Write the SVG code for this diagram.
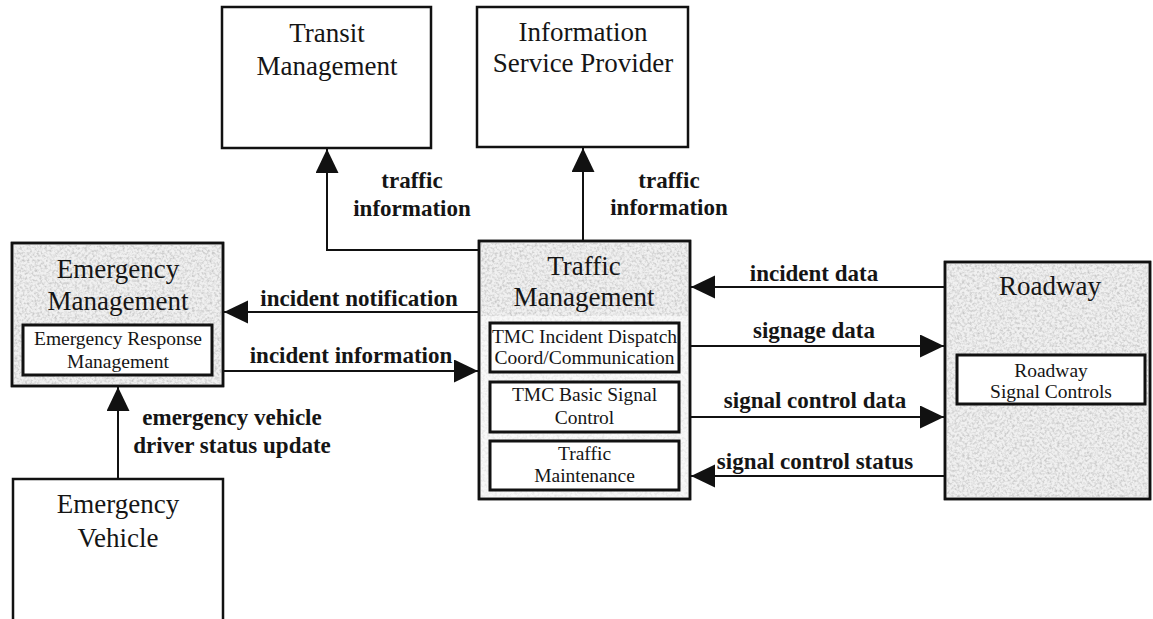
<svg xmlns="http://www.w3.org/2000/svg" width="1153" height="619" viewBox="0 0 1153 619">
  <defs>
    <style>
      .box { fill: #ffffff; stroke: #111; stroke-width: 2.5; }
      .shaded { fill: #f0f0f0; stroke: #111; stroke-width: 2.5; }
      .tone { fill: #ffffff; filter: url(#screen); }
      .edge { fill: none; stroke: #111; stroke-width: 2.5; }
      .inner { fill: #ffffff; stroke: #111; stroke-width: 3; }
      .title { font-family: "Liberation Serif", "Times New Roman", serif; font-size: 27px; fill: #151515; text-anchor: middle; }
      .sub { font-family: "Liberation Serif", "Times New Roman", serif; font-size: 19.5px; fill: #151515; text-anchor: middle; }
      .label { font-family: "Liberation Serif", "Times New Roman", serif; font-size: 23px; font-weight: bold; fill: #151515; text-anchor: middle; }
      .flow { fill: none; stroke: #111; stroke-width: 2; marker-end: url(#head); }
    </style>
    <marker id="head" markerUnits="userSpaceOnUse" markerWidth="25" markerHeight="24" refX="24" refY="11.5" orient="auto">
      <path d="M0,0 L24,11.5 L0,23 z" fill="#111"/>
    </marker>
    <!-- speckled screen tone used inside the shaded boxes -->
    <filter id="screen" x="0" y="0" width="100%" height="100%">
      <feTurbulence type="fractalNoise" baseFrequency="0.4" numOctaves="2" seed="7" result="noise"/>
      <feColorMatrix in="noise" type="matrix" values="0 0 0 0 0.55  0 0 0 0 0.55  0 0 0 0 0.55  2.2 0 0 0 -0.9" result="dots"/>
      <feComposite in="dots" in2="SourceGraphic" operator="in"/>
    </filter>
  </defs>

  <!-- Transit Management -->
  <g id="transit-management">
    <rect class="box" x="222" y="7" width="209" height="141"/>
    <text class="title" x="327" y="42">Transit</text>
    <text class="title" x="327" y="75">Management</text>
  </g>

  <!-- Information Service Provider -->
  <g id="information-service-provider">
    <rect class="box" x="477" y="7" width="211" height="140"/>
    <text class="title" x="583" y="41">Information</text>
    <text class="title" x="583" y="72">Service Provider</text>
  </g>

  <!-- Emergency Management -->
  <g id="emergency-management">
    <rect class="shaded" x="12" y="243" width="211" height="143"/>
    <rect class="tone" x="14" y="245" width="207" height="139"/>
    <rect class="edge" x="12" y="243" width="211" height="143"/>
    <text class="title" x="118" y="278">Emergency</text>
    <text class="title" x="118" y="310">Management</text>
    <g id="emergency-response-management">
      <rect class="inner" x="23" y="325" width="189" height="50"/>
      <text class="sub" x="118" y="345">Emergency Response</text>
      <text class="sub" x="118" y="368">Management</text>
    </g>
  </g>

  <!-- Emergency Vehicle (runs off the bottom edge) -->
  <g id="emergency-vehicle">
    <rect class="box" x="13" y="479" width="210" height="160"/>
    <text class="title" x="118" y="513">Emergency</text>
    <text class="title" x="118" y="547">Vehicle</text>
  </g>

  <!-- Traffic Management -->
  <g id="traffic-management">
    <rect class="shaded" x="479" y="241" width="211" height="258"/>
    <rect class="tone" x="481" y="243" width="207" height="254"/>
    <!-- lighter tone around the function boxes -->
    <rect x="481" y="316" width="207" height="181" fill="#ffffff" opacity="0.55"/>
    <rect class="edge" x="479" y="241" width="211" height="258"/>
    <text class="title" x="584" y="275">Traffic</text>
    <text class="title" x="584" y="306">Management</text>
    <g id="tmc-incident-dispatch">
      <rect class="inner" x="490" y="323" width="189" height="49"/>
      <text class="sub" x="584.5" y="343">TMC Incident Dispatch</text>
      <text class="sub" x="584.5" y="364">Coord/Communication</text>
    </g>
    <g id="tmc-basic-signal-control">
      <rect class="inner" x="490" y="382" width="189" height="50"/>
      <text class="sub" x="584.5" y="401">TMC Basic Signal</text>
      <text class="sub" x="584.5" y="424">Control</text>
    </g>
    <g id="traffic-maintenance">
      <rect class="inner" x="490" y="441" width="189" height="49"/>
      <text class="sub" x="584.5" y="460">Traffic</text>
      <text class="sub" x="584.5" y="482">Maintenance</text>
    </g>
  </g>

  <!-- Roadway -->
  <g id="roadway">
    <rect class="shaded" x="945" y="262" width="205" height="237"/>
    <rect class="tone" x="947" y="264" width="201" height="233"/>
    <rect class="edge" x="945" y="262" width="205" height="237"/>
    <text class="title" x="1050" y="295">Roadway</text>
    <g id="roadway-signal-controls">
      <rect class="inner" x="957" y="355" width="188" height="49"/>
      <text class="sub" x="1051" y="377">Roadway</text>
      <text class="sub" x="1051" y="398">Signal Controls</text>
    </g>
  </g>

  <!-- Connectors -->
  <g id="connectors">
    <path class="flow" d="M479,250 H327 V149"/>
    <path class="flow" d="M583,241 V148"/>
    <path class="flow" d="M479,312 H224"/>
    <path class="flow" d="M224,371 H478"/>
    <path class="flow" d="M118,479 V387"/>
    <path class="flow" d="M945,287 H691"/>
    <path class="flow" d="M691,346 H944"/>
    <path class="flow" d="M691,417 H944"/>
    <path class="flow" d="M945,476 H691"/>

    <text class="label" x="412" y="188">traffic</text>
    <text class="label" x="412" y="216">information</text>
    <text class="label" x="669" y="188">traffic</text>
    <text class="label" x="669" y="215">information</text>
    <text class="label" x="359" y="306">incident notification</text>
    <text class="label" x="351" y="363">incident information</text>
    <text class="label" x="232" y="425">emergency vehicle</text>
    <text class="label" x="232" y="453">driver status update</text>
    <text class="label" x="814" y="281">incident data</text>
    <text class="label" x="814" y="338">signage data</text>
    <text class="label" x="815" y="408">signal control data</text>
    <text class="label" x="815" y="469">signal control status</text>
  </g>
</svg>
